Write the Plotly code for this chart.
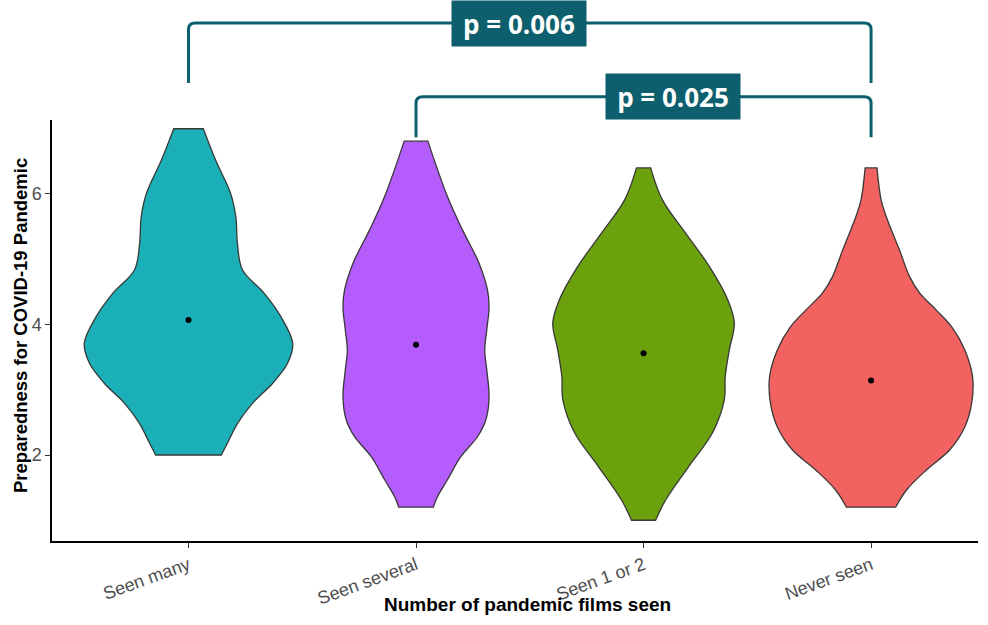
import plotly.graph_objects as go

# Groups on the x axis
categories = ["Seen many", "Seen several", "Seen 1 or 2", "Never seen"]
fill_colors = ["#1BB0B8", "#B45CFC", "#6AA10D", "#F26260"]

# Violin outlines: preparedness levels (top -> bottom) and the half-width
# of the density at each level, in category-axis units
levels_many = [7.00, 6.52, 6.01, 5.65, 5.24, 4.84, 4.48, 4.12, 3.71, 3.41, 3.10, 2.79, 2.48, 2.18, 2.00]
width_many = [0.065, 0.119, 0.185, 0.208, 0.215, 0.237, 0.332, 0.406, 0.458, 0.436, 0.370, 0.281, 0.215, 0.171, 0.144]

levels_several = [6.81, 5.96, 5.45, 4.94, 4.53, 4.27, 3.92, 3.61, 3.30, 2.89, 2.54, 2.28, 1.97, 1.62, 1.36, 1.20]
width_several = [0.052, 0.138, 0.204, 0.277, 0.314, 0.321, 0.311, 0.302, 0.311, 0.321, 0.307, 0.270, 0.196, 0.138, 0.094, 0.076]

levels_few = [6.40, 5.91, 5.40, 4.89, 4.38, 4.02, 3.61, 3.20, 2.85, 2.34, 1.83, 1.31, 1.00]
width_few = [0.031, 0.083, 0.185, 0.289, 0.370, 0.399, 0.377, 0.359, 0.355, 0.303, 0.200, 0.097, 0.053]

levels_never = [6.40, 5.91, 5.66, 5.14, 4.73, 4.48, 4.22, 3.97, 3.61, 3.20, 2.79, 2.43, 2.08, 1.77, 1.46, 1.20]
width_never = [0.026, 0.044, 0.066, 0.125, 0.170, 0.214, 0.287, 0.353, 0.412, 0.446, 0.442, 0.412, 0.346, 0.243, 0.155, 0.108]

# Group means
means = [4.07, 3.69, 3.56, 3.14]

# Pairwise comparisons: (from group, to group, p-value label)
comparisons = [(1, 4, "p = 0.006"), (2, 4, "p = 0.025")]
# Bracket heights in preparedness units: (horizontal bar, leg ends)
bracket_levels = [(8.62, 7.70), (7.49, 6.87)]

y_range = [0.682, 7.134]
x_range = [0.4, 4.47]

profiles = [
    (levels_many, width_many),
    (levels_several, width_several),
    (levels_few, width_few),
    (levels_never, width_never),
]

fig = go.Figure()

for i, ((lv, wd), color) in enumerate(zip(profiles, fill_colors)):
    c = i + 1
    # right side top -> bottom, flat bottom, left side bottom -> top, flat top;
    # the end points are doubled so the spline keeps the corners square
    right_x = [c + w for w in wd]
    left_x = [c - w for w in reversed(wd)]
    xs = [right_x[0]] + right_x + [right_x[-1], left_x[0]] + left_x + [left_x[-1], right_x[0], right_x[0]]
    ys = [lv[0]] + list(lv) + [lv[-1], lv[-1]] + list(reversed(lv)) + [lv[0], lv[0], lv[0]]
    fig.add_trace(go.Scatter(
        x=xs, y=ys, mode="lines", fill="toself", fillcolor=color,
        line=dict(color="#383838", width=1.3, shape="spline", smoothing=1.0, simplify=False),
        hoverinfo="skip", showlegend=False,
    ))

fig.add_trace(go.Scatter(
    x=list(range(1, len(categories) + 1)), y=means, mode="markers",
    marker=dict(color="black", size=6, symbol="circle"),
    showlegend=False, hoverinfo="skip",
))


def to_paper(v):
    return (v - y_range[0]) / (y_range[1] - y_range[0])


bracket_color = "#0D5F6E"
rx = 0.03
ry = 0.015
box_shift = [-11, 29]
for (a, b, label), (top, end), shift in zip(comparisons, bracket_levels, box_shift):
    yt = to_paper(top)
    ye = to_paper(end)
    path = (
        f"M {a},{ye} L {a},{yt - ry} Q {a},{yt} {a + rx},{yt} "
        f"L {b - rx},{yt} Q {b},{yt} {b},{yt - ry} L {b},{ye}"
    )
    fig.add_shape(type="path", path=path, xref="x", yref="paper",
                  line=dict(color=bracket_color, width=3))
    fig.add_annotation(
        x=(a + b) / 2, y=yt, xref="x", yref="paper", xshift=shift,
        text=f"<b>{label}</b>", showarrow=False,
        font=dict(family="Open Sans", size=26, color="white"),
        bgcolor=bracket_color, width=134, height=45, borderpad=0,
        xanchor="center", yanchor="middle",
    )

fig.add_annotation(
    x=-0.0346, y=0.513, xref="paper", yref="paper",
    text="<b>Preparedness for COVID-19 Pandemic</b>", textangle=-90,
    showarrow=False, font=dict(family="Liberation Sans", size=18.5, color="black"),
    xanchor="center", yanchor="middle",
)
fig.add_annotation(
    x=0.513, y=-0.15, xref="paper", yref="paper",
    text="<b>Number of pandemic films seen</b>",
    showarrow=False, font=dict(family="Liberation Sans", size=19, color="black"),
    xanchor="center", yanchor="middle",
)

fig.update_xaxes(
    range=x_range, tickvals=list(range(1, len(categories) + 1)), ticktext=categories,
    tickangle=-20, showline=True, linecolor="black", linewidth=1.5,
    ticks="outside", ticklen=5, tickcolor="#333333", showgrid=False, zeroline=False,
    tickfont=dict(family="Liberation Sans", size=18, color="#4D4D4D"),
)
fig.update_yaxes(
    range=y_range, tickvals=[2, 4, 6], showline=True, linecolor="black", linewidth=1.5,
    ticks="outside", ticklen=5, tickcolor="#333333", showgrid=False, zeroline=False,
    tickfont=dict(family="Liberation Sans", size=18, color="#4D4D4D"),
)

fig.update_layout(
    width=988, height=625,
    margin=dict(l=52, r=10, t=120, b=84),
    plot_bgcolor="white", paper_bgcolor="white",
    showlegend=False,
)

fig.write_html("out.html")
